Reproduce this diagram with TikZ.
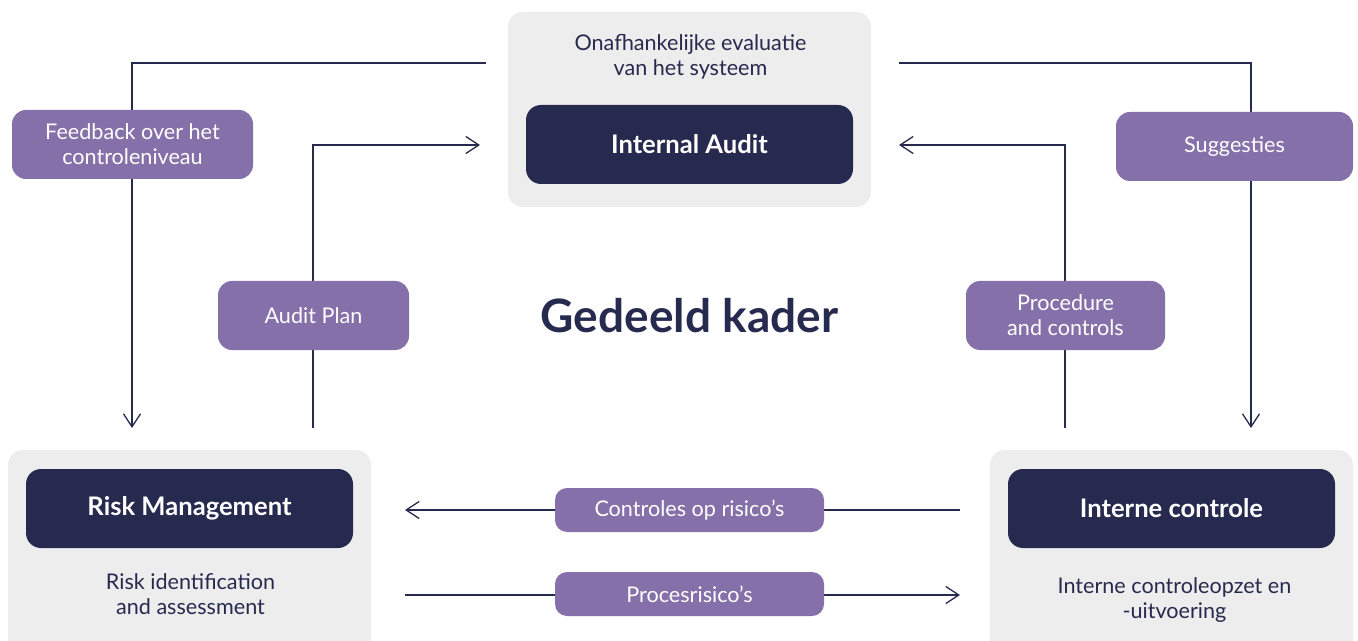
\documentclass[tikz,border=0pt]{standalone}
\usepackage{fontspec}
\setmainfont{Lato}
\usetikzlibrary{arrows.meta}

\definecolor{navy}{HTML}{272A4F}
\definecolor{lilac}{HTML}{8670A9}
\definecolor{panel}{HTML}{EDEDED}

\begin{document}
\begin{tikzpicture}[x=0.5pt, y=-0.5pt,
  >={Straight Barb[length=6.5pt,width=8.5pt]},
  flow/.style={draw=navy, line width=0.65pt},
  panelbox/.style={fill=panel, rounded corners=7.5pt, minimum width=181.5pt, minimum height=97.5pt},
  rolebox/.style={fill=navy, text=white, rounded corners=7.5pt, minimum width=163.5pt, minimum height=39.5pt, font=\fontsize{12.8}{14}\selectfont\bfseries},
  tagbox/.style={fill=lilac, text=white, rounded corners=7pt, minimum height=34.5pt, align=center, font=\fontsize{10.8}{12.5}\selectfont},
  smalltag/.style={tagbox, rounded corners=6pt, minimum width=134.5pt, minimum height=22pt},
  note/.style={text=navy, align=center, font=\fontsize{10.8}{12.5}\selectfont}]

\useasboundingbox (0,0) rectangle (1358,641);
\clip (0,0) rectangle (1358,641);

% Panels
\node[panelbox] (top) at (689.5,109.5) {};
\node[panelbox, minimum height=102.5pt] (left) at (189.5,552.5) {};
\node[panelbox, minimum height=102.5pt] (right) at (1171.5,552.5) {};

% Roles
\node[rolebox] (audit) at (689.5,144.5) {Internal Audit};
\node[rolebox] (risk) at (189.5,508.5) {Risk Management};
\node[rolebox] (control) at (1171.5,508.5) {Interne controle};

% Descriptions
\node[note] (auditnote) at (690.5,56.5) {Onafhankelijke evaluatie\\van het systeem};
\node[note] (risknote) at (190.5,594.5) {Risk identification\\and assessment};
\node[note] (controlnote) at (1174.5,600.5) {Interne controleopzet en\\-uitvoering};

% Points
\coordinate (fbstart) at (486,63);
\coordinate (fbcorner) at (132,63);
\coordinate (fbend) at (132,428);
\coordinate (apstart) at (313,428);
\coordinate (apcorner) at (313,145);
\coordinate (apend) at (480,145);
\coordinate (sgstart) at (899,63);
\coordinate (sgcorner) at (1251,63);
\coordinate (sgend) at (1251,428);
\coordinate (pcstart) at (1065,428);
\coordinate (pccorner) at (1065,145);
\coordinate (pcend) at (899,145);
\coordinate (crstart) at (960,510);
\coordinate (crend) at (405,510);
\coordinate (prstart) at (405,595);
\coordinate (prend) at (960,595);

% Flows
\draw[flow,->] (fbstart) -- (fbcorner) -- (fbend);
\draw[flow,->] (apstart) -- (apcorner) -- (apend);
\draw[flow,->] (sgstart) -- (sgcorner) -- (sgend);
\draw[flow,->] (pcstart) -- (pccorner) -- (pcend);
\draw[flow,->] (crstart) -- (crend);
\draw[flow,->] (prstart) -- (prend);

% Labels
\node[tagbox, minimum width=120.5pt] (feedback) at (132.5,144.5) {Feedback over het\\controleniveau};
\node[tagbox, minimum width=95.5pt] (plan) at (313.5,315.5) {Audit Plan};
\node[tagbox, minimum width=99.5pt] (procedure) at (1065.5,315.5) {Procedure\\and controls};
\node[tagbox, minimum width=118.5pt] (suggest) at (1234.5,146.5) {Suggesties};
\node[smalltag] (controls) at (689.5,510) {Controles op risico’s};
\node[smalltag] (risks) at (689.5,594) {Procesrisico’s};

% Title
\node[text=navy, font=\fontsize{23}{26}\selectfont\bfseries] (title) at (689.5,316) {Gedeeld kader};

\end{tikzpicture}
\end{document}
